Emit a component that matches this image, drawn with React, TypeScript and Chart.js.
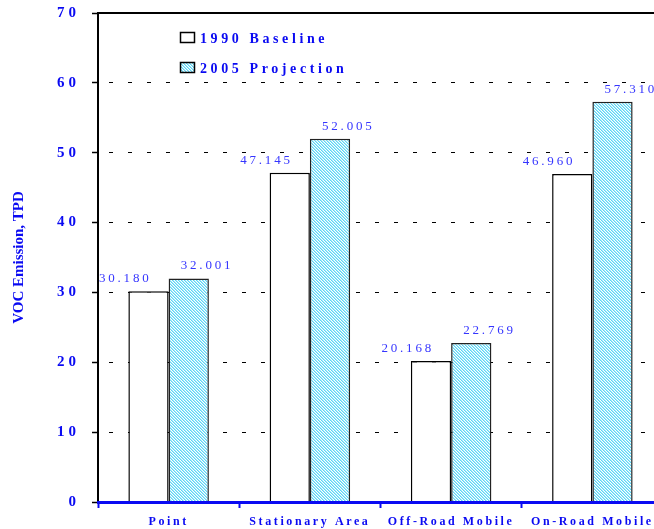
import { useEffect, useRef } from 'react';
import { Chart, registerables } from 'chart.js';

Chart.register(...registerables);

const categories = ['Point', 'Stationary Area', 'Off-Road Mobile', 'On-Road Mobile'];
const seriesLabels = ['1990 Baseline', '2005 Projection'];
const baseline1990 = [30.18, 47.145, 20.168, 46.96];
const projection2005 = [32.001, 52.005, 22.769, 57.31];
const yTicks = [0, 10, 20, 30, 40, 50, 60, 70];
const yTitle = 'VOC Emission, TPD';

const FAMILY = "'Liberation Serif', 'Times New Roman', serif";
const BLUE = '#0a0af2';
const LABEL_BLUE = '#3535ff';

function makePattern(): CanvasPattern | string {
  const c = document.createElement('canvas');
  c.width = 3;
  c.height = 3;
  const g = c.getContext('2d');
  if (!g) return '#a8e9f8';
  g.fillStyle = '#ffffff';
  g.fillRect(0, 0, 3, 3);
  for (let y = 0; y < 3; y++) {
    for (let x = 0; x < 3; x++) {
      const k = (((x - y) % 3) + 3) % 3;
      if (k === 0) {
        g.fillStyle = '#5cd6f5';
        g.fillRect(x, y, 1, 1);
      } else if (k === 1) {
        g.fillStyle = '#a6e9fb';
        g.fillRect(x, y, 1, 1);
      }
    }
  }
  return g.createPattern(c, 'repeat') || '#a8e9f8';
}

export default function App() {
  const ref = useRef<HTMLCanvasElement | null>(null);

  useEffect(() => {
    const canvas = ref.current;
    if (!canvas) return;
    const pattern = makePattern();

    const spacingPlugin = {
      id: 'spacing',
      beforeDraw(chart: any) {
        chart.ctx.letterSpacing = '4px';
      },
      afterDatasetsDraw(chart: any) {
        const ctx = chart.ctx as CanvasRenderingContext2D;
        ctx.save();
        (ctx as any).letterSpacing = '2.8px';
        ctx.font = `13px ${FAMILY}`;
        ctx.fillStyle = LABEL_BLUE;
        ctx.textBaseline = 'alphabetic';
        const m0 = chart.getDatasetMeta(0);
        const m1 = chart.getDatasetMeta(1);
        m0.data.forEach((bar: any, j: number) => {
          ctx.textAlign = 'right';
          ctx.fillText(baseline1990[j].toFixed(3), bar.x + 3, bar.y - 9);
        });
        m1.data.forEach((bar: any, j: number) => {
          ctx.textAlign = 'left';
          ctx.fillText(projection2005[j].toFixed(3), bar.x - 8, bar.y - 9);
        });
        ctx.restore();
        (ctx as any).letterSpacing = '2.6px';
      },
      afterDraw(chart: any) {
        const ctx = chart.ctx as CanvasRenderingContext2D;
        // legend
        ctx.save();
        (ctx as any).letterSpacing = '3.6px';
        ctx.font = `bold 14px ${FAMILY}`;
        ctx.textAlign = 'left';
        ctx.textBaseline = 'alphabetic';
        const fills: (string | CanvasPattern)[] = ['#ffffff', pattern];
        const rows = [32, 62];
        seriesLabels.forEach((lab, i) => {
          const y = rows[i];
          ctx.fillStyle = fills[i] as any;
          ctx.fillRect(180.5, y + 0.5, 14, 10);
          ctx.lineWidth = 1.5;
          ctx.strokeStyle = '#000000';
          ctx.strokeRect(180.5, y + 0.5, 14, 10);
          ctx.fillStyle = BLUE;
          ctx.fillText(lab, 200, y + 10.5);
        });
        ctx.restore();
        // y axis title
        ctx.save();
        (ctx as any).letterSpacing = '0px';
        ctx.translate(19, (chart.chartArea.top + chart.chartArea.bottom) / 2);
        ctx.rotate(-Math.PI / 2);
        ctx.font = `bold 15px ${FAMILY}`;
        ctx.fillStyle = BLUE;
        ctx.textAlign = 'center';
        ctx.textBaseline = 'middle';
        ctx.fillText(yTitle, 0, 0);
        ctx.restore();
      },
    };

    const chart = new Chart(canvas, {
      type: 'bar',
      data: {
        labels: categories,
        datasets: [
          {
            label: seriesLabels[0],
            data: baseline1990,
            backgroundColor: '#ffffff',
            borderColor: '#000000',
            borderWidth: 1.5,
          },
          {
            label: seriesLabels[1],
            data: projection2005,
            backgroundColor: pattern as any,
            borderColor: '#222222',
            borderWidth: 1.5,
          },
        ],
      },
      options: {
        responsive: false,
        animation: false,
        devicePixelRatio: 1,
        layout: { padding: { top: 13, right: 1, left: 0, bottom: 0 } },
        datasets: { bar: { categoryPercentage: 0.57, barPercentage: 1 } },
        plugins: { legend: { display: false }, tooltip: { enabled: false } },
        scales: {
          x: {
            type: 'category',
            position: 'bottom',
            grid: {
              display: true,
              drawOnChartArea: false,
              offset: true,
              tickLength: 6,
              tickColor: BLUE,
              tickWidth: 2,
              color: BLUE,
            },
            border: { display: true, color: BLUE, width: 3, z: 1 },
            ticks: {
              z: 1,
              color: BLUE,
              font: { family: FAMILY, size: 12, weight: 'bold' },
              padding: 7,
              maxRotation: 0,
              minRotation: 0,
              autoSkip: false,
            },
            afterFit: (s: any) => {
              s.height = 27;
              s.paddingLeft = 0;
              s.paddingRight = 0;
            },
          },
          xTop: {
            type: 'category',
            position: 'top',
            grid: { display: false },
            ticks: { display: false },
            border: { display: true, color: '#000000', width: 2 },
            afterFit: (s: any) => {
              s.height = 0;
              s.paddingLeft = 0;
              s.paddingRight = 0;
            },
          },
          y: {
            type: 'linear',
            min: 0,
            max: 70,
            afterBuildTicks: (s: any) => {
              s.ticks = yTicks.map((v) => ({ value: v }));
            },
            ticks: {
              color: BLUE,
              font: { family: FAMILY, size: 15, weight: 'bold' },
              padding: 12,
            },
            grid: {
              color: '#000000',
              lineWidth: 1,
              tickLength: 6,
              tickColor: '#000000',
              tickWidth: 1.5,
            },
            border: { display: true, color: '#000000', width: 2, dash: [4, 15], dashOffset: 9 },
            afterFit: (s: any) => {
              s.width = 98;
              s.paddingTop = 0;
              s.paddingBottom = 0;
            },
          },
        },
      } as any,
      plugins: [spacingPlugin],
    });

    return () => chart.destroy();
  }, []);

  return (
    <div
      style={{
        position: 'fixed',
        left: 0,
        top: 0,
        width: 654,
        height: 529,
        overflow: 'hidden',
        background: '#ffffff',
      }}
    >
      <canvas ref={ref} width={664} height={529} style={{ width: 664, height: 529, display: 'block' }} />
    </div>
  );
}
